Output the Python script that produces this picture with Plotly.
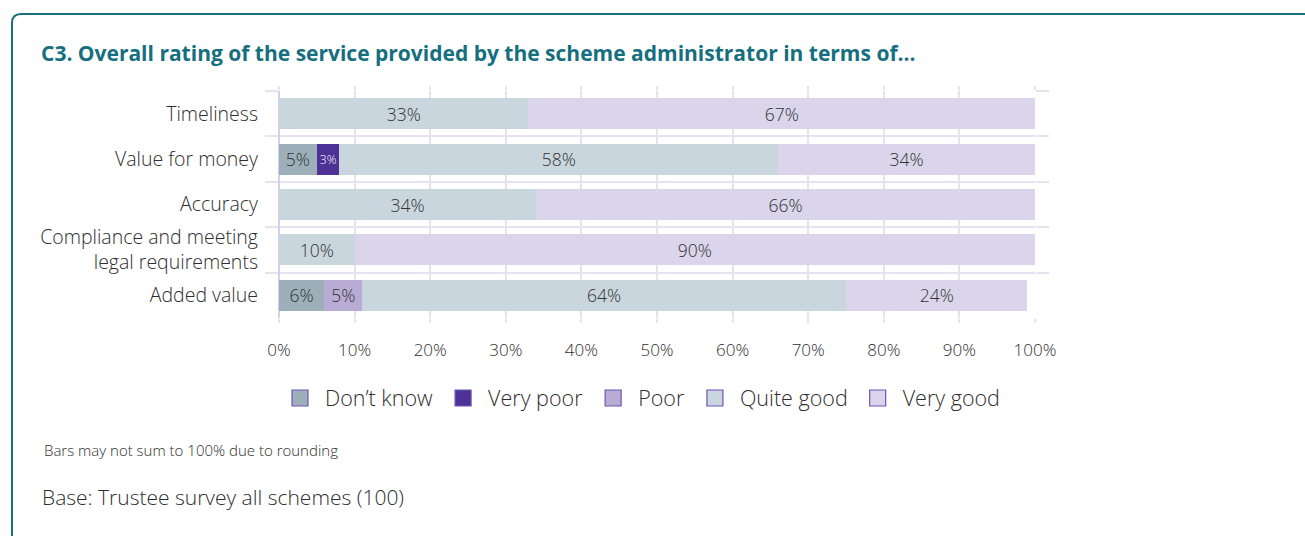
import plotly.graph_objects as go

# Survey question C3: rating of the scheme administrator's service
categories = [
    "Timeliness",
    "Value for money",
    "Accuracy",
    "Compliance and meeting<br>legal requirements",
    "Added value",
]
dont_know = [None, 5, None, None, 6]
very_poor = [None, 3, None, None, None]
poor = [None, None, None, None, 5]
quite_good = [33, 58, 34, 10, 64]
very_good = [67, 34, 66, 90, 24]

x_ticks = [0, 10, 20, 30, 40, 50, 60, 70, 80, 90, 100]
x_tick_labels = [f"{v}%" for v in x_ticks]

series = [
    ("Don\u2019t know", dont_know, "#9db0ba", "#333333"),
    ("Very poor", very_poor, "#4e3195", "#ffffff"),
    ("Poor", poor, "#b8acd5", "#333333"),
    ("Quite good", quite_good, "#c9d6de", "#333333"),
    ("Very good", very_good, "#dad5eb", "#333333"),
]

FONT = "'Open Sans', 'Noto Sans', sans-serif"
TEXT = "#2e2e2e"
GRID = "#e6e2f2"
TEAL = "#156f7f"
LIGHT = 300

fig = go.Figure()

for name, values, color, txt in series:
    fig.add_trace(go.Bar(
        y=categories,
        x=values,
        orientation="h",
        name=name,
        marker=dict(color=color, line=dict(width=0)),
        text=[f"{v}%" if v is not None else "" for v in values],
        textposition="inside",
        insidetextanchor="middle",
        textangle=0,
        textfont=dict(family=FONT, size=17.5, color=txt, weight=LIGHT),
        showlegend=False,
        hoverinfo="skip",
    ))

# Legend swatches with an outlined square
for name, values, color, txt in series:
    fig.add_trace(go.Scatter(
        x=[None], y=[None],
        mode="markers",
        name=name,
        marker=dict(symbol="square", size=16, color=color,
                    line=dict(color="#6b55b8", width=1.2)),
        showlegend=True,
    ))

W, H = 1305, 536
L, R = 279, 1035
T, B = 91, 318


def px(x):
    return (x - L) / (R - L)


def py(y):
    return (B - y) / (B - T)


# rounded frame around the panel
x0, y0, r = 12, 14, 9
frame = (
    f"M {px(x0)},{py(H + 40)} L {px(x0)},{py(y0 + r)} "
    f"Q {px(x0)},{py(y0)} {px(x0 + r)},{py(y0)} L {px(W + 40)},{py(y0)}"
)

fig.update_layout(
    width=W,
    height=H,
    barmode="stack",
    bargap=0.32,
    paper_bgcolor="white",
    plot_bgcolor="white",
    margin=dict(l=L, r=W - R, t=T, b=H - B, autoexpand=False),
    font=dict(family=FONT, color=TEXT, weight=LIGHT),
    shapes=[dict(type="path", xref="paper", yref="paper", path=frame,
                 line=dict(color=TEAL, width=2), layer="above")],
    legend=dict(
        orientation="h",
        traceorder="normal",
        x=px(640), xanchor="center",
        y=py(398), yanchor="middle",
        font=dict(size=21.5, color=TEXT, family=FONT, weight=LIGHT),
        itemsizing="trace",
        itemwidth=40,
        tracegroupgap=0,
    ),
    annotations=[
        dict(text="<b>C3. Overall rating of the service provided by the scheme administrator in terms of...</b>",
             xref="paper", yref="paper", x=px(39), y=py(53),
             xanchor="left", yanchor="middle", showarrow=False,
             font=dict(size=21, color=TEAL, family=FONT)),
        dict(text="Bars may not sum to 100% due to rounding",
             xref="paper", yref="paper", x=px(42), y=py(450),
             xanchor="left", yanchor="middle", showarrow=False,
             font=dict(size=15, color=TEXT, family=FONT, weight=LIGHT)),
        dict(text="Base: Trustee survey all schemes (100)",
             xref="paper", yref="paper", x=px(40), y=py(497),
             xanchor="left", yanchor="middle", showarrow=False,
             font=dict(size=21, color=TEXT, family=FONT, weight=LIGHT)),
    ],
)

fig.update_xaxes(
    range=[0, 100],
    tickvals=x_ticks,
    ticktext=x_tick_labels,
    showgrid=True,
    gridcolor=GRID,
    gridwidth=1.5,
    zeroline=True,
    zerolinecolor="#d6d1e8",
    zerolinewidth=2,
    showline=False,
    ticks="outside",
    ticklen=4,
    tickwidth=1.5,
    tickcolor=GRID,
    mirror="ticks",
    ticklabelstandoff=13,
    tickfont=dict(size=17, color=TEXT, family=FONT, weight=LIGHT),
    fixedrange=True,
)

fig.update_yaxes(
    type="category",
    categoryorder="array",
    categoryarray=categories,
    autorange="reversed",
    tickson="boundaries",
    showgrid=True,
    gridcolor=GRID,
    gridwidth=1.5,
    showline=False,
    ticks="outside",
    ticklen=13,
    tickwidth=1.5,
    tickcolor=GRID,
    mirror="ticks",
    ticklabelstandoff=20,
    tickfont=dict(size=19.5, color=TEXT, family=FONT, weight=LIGHT),
    fixedrange=True,
)

fig.write_html("out.html")
